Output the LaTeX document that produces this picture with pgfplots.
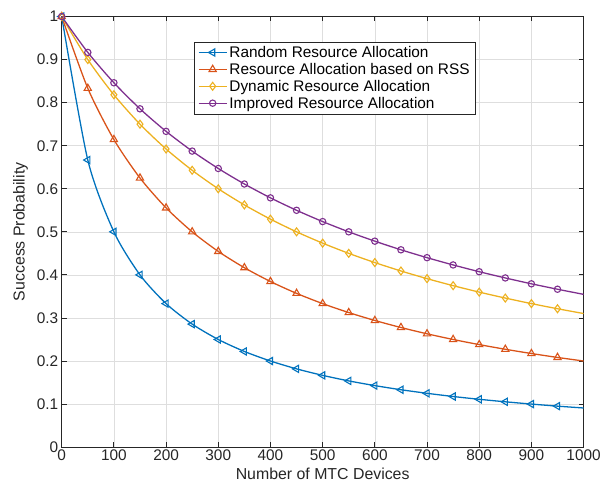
\documentclass[border=0pt]{standalone}
\usepackage{fontspec}
\setmainfont{Liberation Sans}
\usepackage{pgfplots}
\pgfplotsset{compat=1.18}
\definecolor{mlBlue}{rgb}{0,0.447,0.741}
\definecolor{mlOrange}{rgb}{0.850,0.325,0.098}
\definecolor{mlYellow}{rgb}{0.929,0.694,0.125}
\definecolor{mlPurple}{rgb}{0.494,0.184,0.556}
\definecolor{axisgray}{rgb}{0.15,0.15,0.15}

\begin{document}
\begin{tikzpicture}
\begin{axis}[
  scale only axis, width=526pt, height=434pt,
  xmin=0, xmax=1000, ymin=0, ymax=1,
  xtick={0,100,200,300,400,500,600,700,800,900,1000},
  xticklabels={0,100,200,300,400,500,600,700,800,900,1000},
  ytick={0,0.1,0.2,0.3,0.4,0.5,0.6,0.7,0.8,0.9,1},
  yticklabels={0,0.1,0.2,0.3,0.4,0.5,0.6,0.7,0.8,0.9,1},
  grid=major, grid style={draw=black!13,line width=.6pt},
  axis line style={draw=axisgray,line width=.8pt},
  tick style={draw=axisgray,line width=.8pt}, major tick length=5pt,
  tick align=inside,
  tick label style={font=\fontsize{15.5}{15.5}\selectfont,text=axisgray},
  xticklabel style={yshift=1pt},
  label style={font=\fontsize{16}{16}\selectfont,text=axisgray},
  xlabel={Number of MTC Devices},
  ylabel={Success Probability},
  xlabel style={yshift=-1pt},
  ylabel style={yshift=2pt},
  legend style={at={(axis cs:253,0.942)},anchor=north west,
    font=\fontsize{15.5}{15.5}\selectfont, draw=axisgray,
    inner xsep=4pt, inner ysep=2.5pt, row sep=0.3pt},
  legend cell align=left,
  legend image post style={mark indices={2}},
  legend image code/.code={%
    \draw[#1] plot coordinates {(0cm,0cm) (0.5cm,0cm) (1cm,0cm)};},
  every axis plot/.append style={line width=1.3pt},
]

\addplot[mlBlue, smooth, tension=0.45, mark=triangle, mark size=4.2pt,
  mark options={rotate=90,line width=1.1pt}, mark indices={1,...,20}]
coordinates {
 (0,1) (50,0.6667) (100,0.5) (150,0.4) (200,0.3333) (250,0.2857)
 (300,0.25) (350,0.2222) (400,0.2) (450,0.1818) (500,0.1667)
 (550,0.1538) (600,0.1429) (650,0.1333) (700,0.125) (750,0.1176)
 (800,0.1111) (850,0.1053) (900,0.1) (950,0.0952) (1000,0.0909)};
\addlegendentry{Random Resource Allocation}

\addplot[mlOrange, smooth, tension=0.45, mark=triangle, mark size=4.2pt,
  mark options={line width=1.1pt}, mark indices={1,...,20}]
coordinates {
 (0,1) (50,0.8333) (100,0.7143) (150,0.625) (200,0.5556) (250,0.5)
 (300,0.4545) (350,0.4167) (400,0.3846) (450,0.3571) (500,0.3333)
 (550,0.3125) (600,0.2941) (650,0.2778) (700,0.2632) (750,0.25)
 (800,0.2381) (850,0.2273) (900,0.2174) (950,0.2083) (1000,0.2)};
\addlegendentry{Resource Allocation based on RSS}

\addplot[mlYellow, smooth, tension=0.45, mark=diamond, mark size=4pt,
  mark options={line width=1.1pt}, mark indices={1,...,20}]
coordinates {
 (0,1) (50,0.9) (100,0.8182) (150,0.75) (200,0.6923) (250,0.6429)
 (300,0.6) (350,0.5625) (400,0.5294) (450,0.5) (500,0.4737)
 (550,0.45) (600,0.4286) (650,0.4091) (700,0.3913) (750,0.375)
 (800,0.36) (850,0.3462) (900,0.3333) (950,0.3214) (1000,0.3103)};
\addlegendentry{Dynamic Resource Allocation}

\addplot[mlPurple, smooth, tension=0.45, mark=o, mark size=3.2pt,
  mark options={line width=1.1pt}, mark indices={1,...,20}]
coordinates {
 (0,1) (50,0.9167) (100,0.8462) (150,0.7857) (200,0.7333) (250,0.6875)
 (300,0.6471) (350,0.6111) (400,0.5789) (450,0.55) (500,0.5238)
 (550,0.5) (600,0.4783) (650,0.4583) (700,0.44) (750,0.4231)
 (800,0.4074) (850,0.3929) (900,0.3793) (950,0.3667) (1000,0.3548)};
\addlegendentry{Improved Resource Allocation}

\end{axis}
\path (current axis.outer north west) +(-10pt,8pt);
\end{tikzpicture}
\end{document}
